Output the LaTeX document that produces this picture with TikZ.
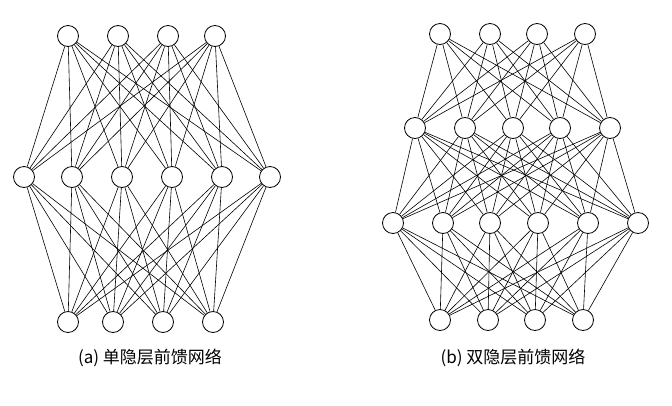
\documentclass[tikz,border=0pt]{standalone}
\usepackage{fontspec}
\newfontfamily\cjk{Noto Sans CJK SC}
\begin{document}
\begin{tikzpicture}[x=1pt,y=-1pt,
  neuron/.style={circle,draw,line width=0.8pt,minimum size=21pt,inner sep=0pt,fill=white},
  wire/.style={line width=0.6pt},
  captext/.style={font=\cjk\fontsize{17}{19}\selectfont}]
\useasboundingbox (0,0) rectangle (672,405);
% left network
\foreach \x [count=\i] in {68,118,168,215} \node[neuron] (la\i) at (\x,36) {};
\foreach \x [count=\i] in {24,72,122,172,222,270} \node[neuron] (lb\i) at (\x,177) {};
\foreach \x [count=\i] in {68,113,163,213} \node[neuron] (lc\i) at (\x,322) {};
\foreach \i in {1,...,4}{\foreach \j in {1,...,6}{
  \draw[wire] (la\i) -- (lb\j); \draw[wire] (lb\j) -- (lc\i);}}
% right network
\foreach \x [count=\i] in {440,490,537,585} \node[neuron] (ra\i) at (\x,34) {};
\foreach \x [count=\i] in {415,465,513,560,610} \node[neuron] (rb\i) at (\x,128) {};
\foreach \x [count=\i] in {393,443,490,538,588,638} \node[neuron] (rc\i) at (\x,223) {};
\foreach \x [count=\i] in {440,488,535,583} \node[neuron] (rd\i) at (\x,320) {};
\foreach \j in {1,...,5}{
  \foreach \i in {1,...,4}{\draw[wire] (ra\i) -- (rb\j);}
  \foreach \k in {1,...,6}{\draw[wire] (rb\j) -- (rc\k);}}
\foreach \k in {1,...,6}{\foreach \i in {1,...,4}{\draw[wire] (rc\k) -- (rd\i);}}
\node[captext] (capa) at (150,358) {(a) 单隐层前馈网络};
\node[captext] (capb) at (513,358) {(b) 双隐层前馈网络};
\end{tikzpicture}
\end{document}
